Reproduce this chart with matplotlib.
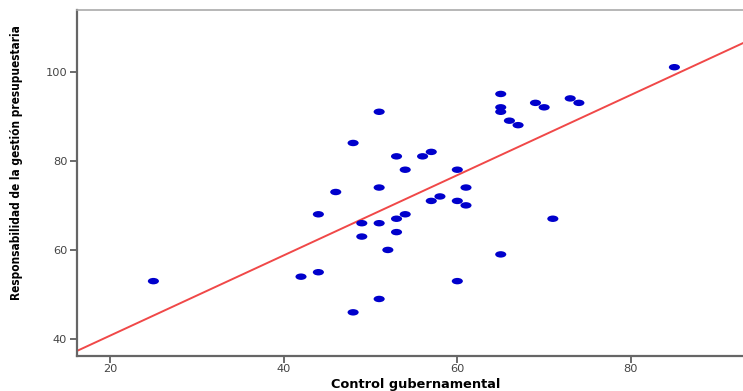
import numpy as np
import matplotlib.pyplot as plt
from matplotlib.path import Path

# Control gubernamental (x) vs Responsabilidad de la gestion presupuestaria (y)
control = [25, 42, 44, 44, 46, 48, 48, 49, 49, 51, 51, 51, 51, 52, 53, 53, 53, 54, 54, 56,
           57, 57, 58, 60, 60, 60, 61, 61, 65, 65, 65, 65, 66, 67, 69, 70, 71, 73, 74, 85]
respons = [53, 54, 55, 68, 73, 84, 46, 66, 63, 91, 74, 66, 49, 60, 81, 67, 64, 78, 68, 81,
           82, 71, 72, 78, 71, 53, 74, 70, 95, 92, 91, 59, 89, 88, 93, 92, 67, 94, 93, 101]
xticks = [20, 40, 60, 80]
yticks = [40, 60, 80, 100]

x = np.array(control, dtype=float)
y = np.array(respons, dtype=float)

# SPSS draws the dots stretched sideways
circ = Path.unit_circle()
ellipse = Path(circ.vertices * np.array([1.0, 0.58]), circ.codes)

fig = plt.figure(figsize=(7.43, 3.91), dpi=100)
ax = fig.add_axes([0.1036, 0.0895, 0.8964, 0.8845])

xlim = (16.2, 92.9)
ax.set_xlim(*xlim)
ax.set_ylim(36.2, 113.8)

b, a = np.polyfit(x, y, 1)
xs = np.array(xlim)
ax.plot(xs, a + b * xs, color="#f04848", lw=1.4, zorder=2)

ax.scatter(x, y, marker=ellipse, s=64, color="#0000cc", edgecolors="none", zorder=3)

ax.set_xticks(xticks)
ax.set_yticks(yticks)
ax.tick_params(direction="out", length=5, width=1.3, color="#606060",
               labelsize=8.2, labelcolor="#444444", pad=2)
ax.tick_params(axis="x", pad=1)

for s in ["left", "bottom"]:
    ax.spines[s].set_color("#666666")
    ax.spines[s].set_linewidth(1.6)
ax.spines["top"].set_color("#aaaaaa")
ax.spines["top"].set_linewidth(1.2)
ax.spines["right"].set_visible(False)

ax.set_xlabel("Control gubernamental", fontsize=9.3, fontweight="bold",
              family=["DejaVu Sans"], va="center")
ax.xaxis.set_label_coords(0.508, -0.081)
ax.set_ylabel("Responsabilidad de la gestión presupuestaria", fontsize=8.5,
              fontweight="bold", fontstretch="condensed", family=["DejaVu Sans"])
ax.yaxis.set_label_coords(-0.081, 0.558)

fig.savefig("out.png", dpi=100)
